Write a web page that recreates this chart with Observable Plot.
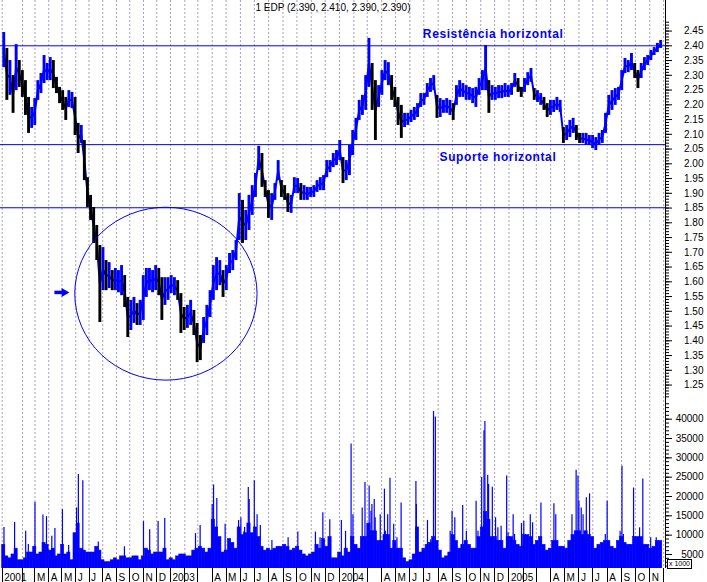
<!DOCTYPE html>
<html><head><meta charset="utf-8">
<script src="https://cdn.jsdelivr.net/npm/d3@7"></script>
<script src="https://cdn.jsdelivr.net/npm/@observablehq/plot@0.6"></script>
<style>
html,body{margin:0;padding:0;background:#fff;}
#chart{position:relative;width:707px;height:582px;overflow:hidden;background:#fff;font-family:"Liberation Sans",Arial,sans-serif;}
#chart svg{position:absolute;left:0;}
#unit{position:absolute;left:667px;top:559px;width:23px;height:8px;border:1px solid #000;font-size:7px;line-height:8px;text-align:center;color:#000;background:#fff;font-family:"Liberation Sans",Arial,sans-serif;}
</style></head><body><div id="chart"></div>
<script>
const title = "1 EDP (2.390, 2.410, 2.390, 2.390)";

const weeks = [
"2001-12-17","2001-12-24","2001-12-31","2002-01-07","2002-01-14","2002-01-21","2002-01-28","2002-02-04","2002-02-11","2002-02-18","2002-02-25","2002-03-04","2002-03-11","2002-03-18","2002-03-25","2002-04-01","2002-04-08","2002-04-15","2002-04-22","2002-04-29","2002-05-06","2002-05-13","2002-05-20","2002-05-27","2002-06-03","2002-06-10","2002-06-17","2002-06-24","2002-07-01","2002-07-08","2002-07-15","2002-07-22","2002-07-29","2002-08-05","2002-08-12","2002-08-19","2002-08-26","2002-09-02","2002-09-09","2002-09-16","2002-09-23","2002-09-30","2002-10-07","2002-10-14","2002-10-21","2002-10-28","2002-11-04","2002-11-11","2002-11-18","2002-11-25","2002-12-02","2002-12-09","2002-12-16","2002-12-23","2002-12-30",
"2003-01-06","2003-01-13","2003-01-20","2003-01-27","2003-02-03","2003-02-10","2003-02-17","2003-02-24","2003-03-03","2003-03-10","2003-03-17","2003-03-24","2003-03-31","2003-04-07","2003-04-14","2003-04-21","2003-04-28","2003-05-05","2003-05-12","2003-05-19","2003-05-26","2003-06-02","2003-06-09","2003-06-16","2003-06-23","2003-06-30","2003-07-07","2003-07-14","2003-07-21","2003-07-28","2003-08-04","2003-08-11","2003-08-18","2003-08-25","2003-09-01","2003-09-08","2003-09-15","2003-09-22","2003-09-29","2003-10-06","2003-10-13","2003-10-20","2003-10-27","2003-11-03","2003-11-10","2003-11-17","2003-11-24","2003-12-01","2003-12-08","2003-12-15","2003-12-22","2003-12-29",
"2004-01-05","2004-01-12","2004-01-19","2004-01-26","2004-02-02","2004-02-09","2004-02-16","2004-02-23","2004-03-01","2004-03-08","2004-03-15","2004-03-22","2004-03-29","2004-04-05","2004-04-12","2004-04-19","2004-04-26","2004-05-03","2004-05-10","2004-05-17","2004-05-24","2004-05-31","2004-06-07","2004-06-14","2004-06-21","2004-06-28","2004-07-05","2004-07-12","2004-07-19","2004-07-26","2004-08-02","2004-08-09","2004-08-16","2004-08-23","2004-08-30","2004-09-06","2004-09-13","2004-09-20","2004-09-27","2004-10-04","2004-10-11","2004-10-18","2004-10-25","2004-11-01","2004-11-08","2004-11-15","2004-11-22","2004-11-29","2004-12-06","2004-12-13","2004-12-20","2004-12-27",
"2005-01-03","2005-01-10","2005-01-17","2005-01-24","2005-01-31","2005-02-07","2005-02-14","2005-02-21","2005-02-28","2005-03-07","2005-03-14","2005-03-21","2005-03-28","2005-04-04","2005-04-11","2005-04-18","2005-04-25","2005-05-02","2005-05-09","2005-05-16","2005-05-23","2005-05-30","2005-06-06","2005-06-13","2005-06-20","2005-06-27","2005-07-04","2005-07-11","2005-07-18","2005-07-25","2005-08-01","2005-08-08","2005-08-15","2005-08-22","2005-08-29","2005-09-05","2005-09-12","2005-09-19","2005-09-26","2005-10-03","2005-10-10","2005-10-17","2005-10-24","2005-10-31","2005-11-07","2005-11-14","2005-11-21"];

const highs = [
2.445,2.391,2.350,2.299,2.404,2.350,2.316,2.282,2.225,2.191,2.221,2.282,2.306,2.367,2.340,2.360,2.350,2.293,2.259,2.248,2.225,2.248,2.242,2.225,2.137,2.130,2.079,1.953,1.893,1.852,1.791,1.723,1.716,1.672,1.665,1.638,1.645,1.638,1.655,1.621,1.547,1.537,1.547,1.526,1.537,1.621,1.645,1.645,1.638,1.655,1.645,1.614,1.614,1.614,1.621,
1.614,1.604,1.560,1.513,1.520,1.537,1.503,1.459,1.418,1.479,1.520,1.570,1.655,1.682,1.672,1.638,1.655,1.696,1.706,1.740,1.899,1.876,1.842,1.893,1.926,1.967,2.059,2.035,1.943,1.909,1.899,1.933,2.011,1.943,1.926,1.899,1.893,1.953,1.950,1.933,1.926,1.920,1.920,1.926,1.943,1.953,1.960,2.011,2.011,2.035,2.045,2.079,
2.021,2.011,2.062,2.113,2.154,2.215,2.232,2.299,2.425,2.340,2.282,2.265,2.316,2.350,2.343,2.299,2.259,2.225,2.198,2.171,2.171,2.181,2.191,2.204,2.238,2.238,2.272,2.289,2.299,2.232,2.221,2.215,2.221,2.215,2.204,2.265,2.282,2.272,2.265,2.259,2.255,2.259,2.289,2.316,2.401,2.282,2.265,2.259,2.265,2.265,2.272,2.265,
2.272,2.306,2.289,2.259,2.289,2.309,2.323,2.255,2.248,2.238,2.225,2.204,2.215,2.215,2.225,2.215,2.123,2.130,2.147,2.154,2.130,2.103,2.103,2.103,2.096,2.096,2.089,2.103,2.113,2.171,2.232,2.248,2.255,2.259,2.316,2.357,2.350,2.374,2.340,2.316,2.340,2.360,2.367,2.384,2.394,2.408,2.418];

const lows = [
2.326,2.215,2.232,2.171,2.248,2.259,2.225,2.164,2.103,2.120,2.130,2.215,2.238,2.272,2.282,2.282,2.255,2.238,2.204,2.181,2.147,2.191,2.187,2.096,2.035,2.069,1.943,1.852,1.808,1.730,1.672,1.462,1.570,1.570,1.577,1.570,1.570,1.563,1.553,1.513,1.411,1.435,1.459,1.452,1.452,1.469,1.547,1.570,1.563,1.570,1.553,1.469,1.520,1.537,1.560,
1.553,1.537,1.425,1.435,1.442,1.452,1.418,1.326,1.333,1.391,1.418,1.479,1.537,1.570,1.587,1.547,1.570,1.628,1.638,1.672,1.740,1.730,1.740,1.774,1.825,1.886,1.977,1.920,1.886,1.815,1.808,1.876,1.943,1.886,1.876,1.835,1.832,1.899,1.899,1.876,1.876,1.876,1.886,1.886,1.903,1.909,1.909,1.953,1.970,1.987,1.994,2.011,
1.933,1.943,1.960,2.028,2.079,2.147,2.164,2.181,2.259,2.181,2.079,2.191,2.232,2.282,2.265,2.215,2.191,2.130,2.086,2.123,2.130,2.140,2.147,2.157,2.191,2.198,2.225,2.242,2.248,2.154,2.157,2.171,2.171,2.164,2.147,2.198,2.225,2.225,2.215,2.215,2.204,2.191,2.232,2.248,2.248,2.171,2.215,2.215,2.221,2.221,2.225,2.225,
2.232,2.259,2.242,2.225,2.242,2.265,2.276,2.215,2.208,2.198,2.181,2.157,2.164,2.174,2.181,2.174,2.069,2.079,2.089,2.103,2.079,2.069,2.069,2.062,2.062,2.052,2.045,2.062,2.069,2.103,2.164,2.181,2.198,2.215,2.248,2.306,2.309,2.316,2.289,2.255,2.289,2.316,2.333,2.350,2.367,2.377,2.391];

// typical daily volume of each week (x 1000)
const volumes = [
7.5,4.5,4,5,6.5,3.5,3.5,4,5.5,5.5,7,5,5.5,8,7.5,6,6.5,4.5,5,7.5,5,5.5,3.5,10.5,13,6.5,6,5.5,5.5,5.5,7,6,3.5,3,3,3.5,4,3.5,4.5,4.5,4,4,4.5,4.5,3.5,4.5,6.5,6,5,5.5,5.5,5.5,6.5,3.5,4,
3.5,4.5,5,5,4.5,4.5,6,6.5,7,6.5,5.5,6.5,14,12,9.5,5.5,6,9,8,6.5,12,10,10.5,13,10.5,12,9.5,7,6,6.5,6,6.5,7,7,7.5,7,6,6.5,7,6,5,4.5,5,5.5,7.5,6.5,9,7,9.5,4,4,5.5,
4.5,6.5,5.5,9.5,7.5,6.5,9.5,9.5,13,11,11,8.5,8.5,10,10,6.5,8.5,6.5,6.5,4,3,3.5,5,12,5.5,6.5,7.5,8,9.5,8.5,6,4,4.5,5.5,10,8.5,6.5,7.5,8.5,7.5,6.5,6.5,9.5,12,16,14,9.5,9.5,8.5,8.5,6.5,9.5,
9.5,8.5,7.5,7,10,10,9.5,7.5,8.5,9.5,7.5,6,6.5,8.5,8.5,7,7,6.5,8.5,10,11,11,10,11,10,9.5,6.5,7.5,8,8.5,8.5,7,6.5,8.5,9.5,8,7.5,7.5,9.5,9.5,9.5,7.5,7.5,6.5,7,8.5,8.5];

// single trading days with outstanding volume (x 1000)
const spikeDates = ["2001-12-21","2002-01-14","2002-02-08","2002-02-14","2002-03-01","2002-03-19","2002-03-27","2002-04-08","2002-04-15","2002-05-02","2002-05-16","2002-06-03","2002-06-07","2002-06-17","2002-07-22","2002-09-19","2002-11-01","2002-11-15","2002-12-04","2002-12-19",
"2003-02-24","2003-03-06","2003-04-01","2003-04-04","2003-04-11","2003-04-29","2003-05-09","2003-05-28","2003-06-02","2003-06-09","2003-06-10","2003-06-18","2003-06-20","2003-07-01","2003-07-07","2003-07-14","2003-08-08","2003-09-12","2003-10-03","2003-11-10","2003-11-20","2003-11-26","2003-12-11",
"2004-01-05","2004-01-14","2004-01-26","2004-01-30","2004-02-19","2004-02-25","2004-03-05","2004-03-09","2004-03-11","2004-03-16","2004-03-18","2004-03-29","2004-04-07","2004-04-09","2004-04-14","2004-04-19","2004-04-27","2004-05-04","2004-05-13","2004-06-14","2004-06-15","2004-07-09","2004-07-16","2004-07-22","2004-07-26","2004-08-27","2004-08-31","2004-09-06","2004-09-23","2004-10-01","2004-10-22","2004-10-26","2004-11-03","2004-11-08","2004-11-10","2004-11-16","2004-11-18","2004-11-26","2004-12-03","2004-12-08","2004-12-15","2004-12-27","2004-12-30",
"2005-01-10","2005-01-13","2005-01-28","2005-02-02","2005-02-16","2005-02-21","2005-03-11","2005-04-08","2005-04-12","2005-05-17","2005-05-26","2005-05-30","2005-06-01","2005-06-06","2005-06-10","2005-06-17","2005-06-24","2005-07-28","2005-08-01","2005-08-29","2005-09-02","2005-09-05","2005-09-27","2005-10-10","2005-10-17","2005-11-03","2005-11-15"];
const spikeVolumes = [12,13.3,11,7.6,18.5,15.2,14.8,9.7,11.7,16.6,7.3,17,25.7,24.1,8.2,7,13.5,11.4,13.5,14.3,
10.4,12.5,17.9,23,19.5,12.8,9,13.8,14.5,11,12,22.3,19.2,24.1,15.3,12.5,8.6,9.3,10.8,10.8,9.3,15.8,14,
13.8,11,33.6,15.3,17,23.6,22.7,16.2,17.9,19.2,14.5,15.3,21.9,11,15.3,24.7,12.8,9.3,18.3,23.9,17.9,13.8,8.8,42,40.6,11,16.2,14.5,17.7,11,18.8,11,24.9,37,39.4,25.5,23.1,22.4,14.5,11.9,12.3,25.3,10.6,
15.3,10.2,13,13.6,15.3,13.2,18.3,18.1,15.3,15.3,26.8,25.3,18.8,17,15.3,19.7,20.7,10.2,18.8,11,27.8,10.2,22.2,11.9,24.5,9.3,9.3];

const tickDates = ["2001-12-17","2002-02-01","2002-03-01","2002-04-01","2002-05-01","2002-06-01","2002-07-01","2002-08-01","2002-09-01","2002-10-01","2002-11-01","2002-12-01",
"2003-01-01","2003-02-01","2003-03-01","2003-04-01","2003-05-01","2003-06-01","2003-07-01","2003-08-01","2003-09-01","2003-10-01","2003-11-01","2003-12-01",
"2004-01-01","2004-02-01","2004-03-01","2004-04-01","2004-05-01","2004-06-01","2004-07-01","2004-08-01","2004-09-01","2004-10-01","2004-11-01","2004-12-01",
"2005-01-01","2005-02-01","2005-03-01","2005-04-01","2005-05-01","2005-06-01","2005-07-01","2005-08-01","2005-09-01","2005-10-01","2005-11-01","2005-12-01"];
const tickLabels = ["2001","","M","A","M","J","J","A","S","O","N","D",
"2003","","","A","M","J","J","A","S","O","N","D",
"2004","","","A","M","J","J","A","S","O","N","D",
"2005","","","A","M","J","J","A","S","O","N",""];

const levels = [2.40, 2.065, 1.851];
const noteDates = ["2004-06-29","2004-08-04"];
const notePrices = [2.438, 2.024];
const noteTexts = ["Resistência horizontal","Suporte horizontal"];
const circleBox = {from:"2002-05-31", to:"2003-07-08", top:1.851, bottom:1.265};
const arrowSpec = {from:"2002-04-15", to:"2002-05-06", price:1.564};

const priceMajor = d3.range(25, 50).map(d => d * 5 / 100);
const priceMinor = d3.range(121, 249).map(d => d / 100);
const volMajor = d3.range(5, 41, 5);
const volMinor = d3.range(2, 45);

const BLUE = "#0000ff";
const GRID = "#a4a4b6";
const parse = s => new Date(s + "T00:00:00Z");

const priceRows = weeks.map((w, i) => ({date: parse(w), mid: d3.utcHour.offset(parse(w), 84), high: highs[i], low: lows[i]}));
priceRows.forEach((d, i) => { d.down = i > 0 && (d.high + d.low) < (priceRows[i-1].high + priceRows[i-1].low) - 0.024; });
const volRows = weeks.map((w, i) => ({date: parse(w), end: d3.utcDay.offset(parse(w), 7), vol: volumes[i]}));
const spikeRows = spikeDates.map((s, i) => ({date: parse(s), vol: spikeVolumes[i]}));
const gridRows = tickDates.map((s, i) => ({date: parse(s), label: tickLabels[i]}));
const gridDates = gridRows.map(d => d.date);
const notes = noteTexts.map((t, i) => ({date: parse(noteDates[i]), price: notePrices[i], text: t}));
const arrowRows = [{from: parse(arrowSpec.from), to: parse(arrowSpec.to), price: arrowSpec.price}];

const xScale = () => ({type: "utc", domain: [parse("2001-12-17"), parse("2003-01-01"), parse("2005-12-05")], range: [1.7, 170, 665], axis: null});
const svgStyle = {background: "transparent", color: "#000", fontFamily: "'Liberation Sans', Arial, sans-serif", fontSize: "10px", overflow: "visible"};
const NS = "http://www.w3.org/2000/svg";

function ellipseMark(index, scales) {
  const x1 = scales.x(parse(circleBox.from)), x2 = scales.x(parse(circleBox.to));
  const y1 = scales.y(circleBox.top), y2 = scales.y(circleBox.bottom);
  const e = document.createElementNS(NS, "ellipse");
  e.setAttribute("cx", (x1 + x2) / 2); e.setAttribute("cy", (y1 + y2) / 2);
  e.setAttribute("rx", Math.abs(x2 - x1) / 2); e.setAttribute("ry", Math.abs(y2 - y1) / 2);
  e.setAttribute("fill", "none"); e.setAttribute("stroke", BLUE); e.setAttribute("stroke-width", 1);
  return e;
}

const price = Plot.plot({
  width: 707, height: 400, marginTop: 0, marginBottom: 0, marginLeft: 0, marginRight: 42,
  x: xScale(),
  y: {domain: [1.25, 2.45], range: [384.55, 30.55], label: null},
  style: svgStyle,
  marks: [
    Plot.ruleX(gridDates, {stroke: GRID, strokeDasharray: "2,2"}),
    Plot.ruleY(levels, {stroke: BLUE, strokeWidth: 1}),
    Plot.line(priceRows, {x: "mid", y: d => (d.high + d.low) / 2, stroke: BLUE, strokeWidth: 2}),
    Plot.ruleX(priceRows, {x: "mid", y1: "low", y2: "high", stroke: d => d.down ? "#000" : BLUE, strokeWidth: 2.9}),
    ellipseMark,
    Plot.ruleY(arrowRows, {x1: "from", x2: "to", y: "price", stroke: BLUE, strokeWidth: 3.5}),
    Plot.dot(arrowRows, {x: "to", y: "price", symbol: "triangle2", rotate: 90, r: 4.3, fill: BLUE, stroke: "none"}),
    Plot.text(notes, {x: "date", y: "price", text: "text", textAnchor: "start", lineAnchor: "middle", fill: BLUE, fontSize: 12, fontWeight: "bold"}),
    Plot.text([title], {text: d => d, frameAnchor: "top", lineAnchor: "top", dy: 3, fontSize: 10, fill: "#000"}),
    Plot.ruleX([parse("2005-12-05")], {stroke: "#000"}),
    Plot.axisY(priceMinor, {anchor: "right", tickSize: 3, fill: "none", label: null}),
    Plot.axisY(priceMajor, {anchor: "right", tickSize: 6, tickPadding: 32, textAnchor: "end", tickFormat: d => d.toFixed(2), label: null, fontSize: 10})
  ]
});
price.style.top = "0px";
price.querySelectorAll("text").forEach(t => { if (/horizontal/.test(t.textContent)) t.style.letterSpacing = "0.6px"; });

function axisTicks(index, scales, values, dims) {
  const g = document.createElementNS(NS, "g");
  for (const d of gridDates) {
    const l = document.createElementNS(NS, "line");
    const x = Math.round(scales.x(d)) + 0.5;
    l.setAttribute("x1", x); l.setAttribute("x2", x);
    l.setAttribute("y1", dims.height - dims.marginBottom); l.setAttribute("y2", dims.height);
    l.setAttribute("stroke", "#000");
    g.appendChild(l);
  }
  return g;
}

const volume = Plot.plot({
  width: 707, height: 182, marginTop: 0, marginBottom: 14, marginLeft: 0, marginRight: 42,
  x: xScale(),
  y: {domain: [0, 40], range: [173.3, 18.7], label: null},
  style: svgStyle,
  marks: [
    Plot.ruleX(gridDates, {stroke: GRID, strokeDasharray: "2,2"}),
    Plot.rect(volRows, {x1: "date", x2: "end", y1: 0, y2: "vol", fill: BLUE, stroke: BLUE, strokeWidth: 0.6, clip: true}),
    Plot.ruleX(spikeRows, {x: "date", y1: 0, y2: "vol", stroke: BLUE, strokeWidth: 1.2, clip: true}),
    Plot.ruleX([parse("2005-12-05")], {stroke: "#000"}),
    axisTicks,
    Plot.text(gridRows.filter(d => d.label), {x: "date", text: "label", frameAnchor: "bottom", textAnchor: "start", lineAnchor: "bottom", dx: 2, dy: 12, fontSize: 10, fill: "#000"}),
    Plot.axisY(volMinor, {anchor: "right", tickSize: 3, fill: "none", label: null}),
    Plot.axisY(volMajor, {anchor: "right", tickSize: 6, tickPadding: 32, textAnchor: "end", tickFormat: d => String(d * 1000), label: null, fontSize: 10})
  ]
});
volume.style.top = "400px";

const chart = document.getElementById("chart");
chart.appendChild(price);
chart.appendChild(volume);
const unit = document.createElement("div");
unit.id = "unit";
unit.textContent = "x 1000";
chart.appendChild(unit);
</script>
</body></html>
